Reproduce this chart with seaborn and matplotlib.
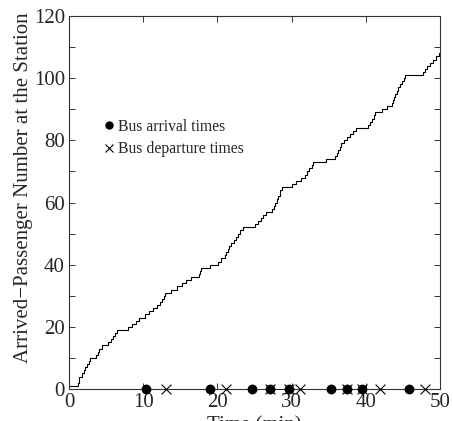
import matplotlib
matplotlib.use("Agg")
import matplotlib.pyplot as plt
from matplotlib.lines import Line2D
from matplotlib.ticker import MultipleLocator
import numpy as np
import pandas as pd
import seaborn as sns

# Passenger arrival instants (min); the k-th entry brings the count to k
passenger_arrivals = [
    0.0, 1.25, 1.3, 1.35, 1.8, 2.0, 2.2, 2.45, 2.65, 2.8,
    3.7, 3.9, 4.1, 4.4, 5.3, 5.6, 5.9, 6.2, 6.5, 8.0,
    8.5, 9.0, 9.5, 10.2, 10.8, 11.3, 11.8, 12.3, 12.6, 12.8,
    13.0, 13.8, 14.5, 15.2, 15.8, 16.5, 17.5, 17.7, 17.8, 19.0,
    20.1, 20.5, 21.0, 21.2, 21.4, 21.6, 21.8, 22.2, 22.5, 22.8,
    23.1, 23.4, 25.1, 25.5, 25.9, 26.2, 26.6, 27.4, 27.6, 27.8,
    28.0, 28.2, 28.4, 28.5, 28.7, 30.0, 30.6, 31.2, 31.8, 32.1,
    32.4, 32.7, 32.9, 34.6, 35.9, 36.1, 36.3, 36.5, 36.7, 37.1,
    37.5, 37.9, 38.3, 38.7, 40.3, 40.6, 40.9, 41.1, 41.3, 42.2,
    42.9, 43.5, 43.7, 43.85, 44.0, 44.15, 44.3, 44.6, 44.85, 45.1,
    45.3, 47.7, 48.0, 48.3, 48.7, 49.0, 49.4, 49.8,
]
end_time = 50.0

bus_arrivals = [10.4, 19.0, 24.6, 27.1, 29.6, 35.3, 37.5, 39.5, 45.8]
bus_departures = [13.1, 21.2, 27.1, 29.6, 31.1, 37.5, 39.5, 41.9, 48.0]

legend_labels = ["Bus arrival times", "Bus departure times"]
x_label = "Time (min)"
y_label = "Arrived\u2212Passenger Number at the Station"

sns.set_style("ticks")
plt.rcParams["font.family"] = ["Liberation Serif", "DejaVu Serif"]

counts = list(range(1, len(passenger_arrivals) + 1))
curve = pd.DataFrame({
    "t": passenger_arrivals + [end_time],
    "n": counts + [counts[-1]],
})

fig = plt.figure(figsize=(4.53, 4.21), dpi=100)
ax = fig.add_axes([0.1523, 0.076, 0.819, 0.886])

sns.lineplot(data=curve, x="t", y="n", drawstyle="steps-post", estimator=None,
             color="black", linewidth=0.8, ax=ax)

sns.scatterplot(x=bus_arrivals, y=np.zeros(len(bus_arrivals)), marker="o", s=50,
                color="black", edgecolor="black", linewidth=0, clip_on=False,
                zorder=5, ax=ax)
sns.scatterplot(x=bus_departures, y=np.zeros(len(bus_departures)), marker="x", s=50,
                color="black", linewidth=0.8, clip_on=False, zorder=6, ax=ax)

ax.set_xlim(0, 50)
ax.set_ylim(0, 120)
ax.xaxis.set_major_locator(MultipleLocator(10))
ax.yaxis.set_major_locator(MultipleLocator(20))
ax.yaxis.set_minor_locator(MultipleLocator(10))
ax.tick_params(which="both", direction="in", top=True, right=True,
               length=4, width=0.7, color="#333333", labelsize=15, pad=3)
for sp in ax.spines.values():
    sp.set_linewidth(0.8)
    sp.set_color("#333333")

ax.set_xlabel(x_label, fontsize=15)
ax.xaxis.set_label_coords(0.5, -0.072)
ax.set_ylabel(y_label, fontsize=15)
ax.yaxis.set_label_coords(-0.097, 0.54)

handles = [
    Line2D([], [], linestyle="none", marker="o", markersize=5, color="black"),
    Line2D([], [], linestyle="none", marker="x", markersize=6, color="black",
           markeredgewidth=0.8),
]
ax.legend(handles, legend_labels, loc="upper left", bbox_to_anchor=(0.094, 0.724),
          frameon=False, fontsize=11.3, handlelength=0.6, handletextpad=0.3,
          labelspacing=0.4, borderpad=0, borderaxespad=0)

fig.savefig("out.png", dpi=100)
